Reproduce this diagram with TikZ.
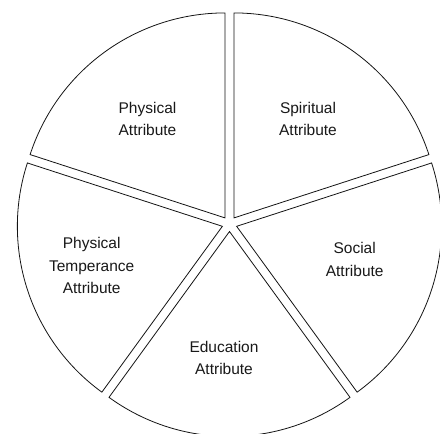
\documentclass[tikz,border=0pt]{standalone}
\usepackage{fontspec}
\setmainfont{Liberation Sans}
\usetikzlibrary{calc,positioning}
\definecolor{PieEdge}{RGB}{20,20,20}
\definecolor{PieText}{RGB}{25,25,25}

\begin{document}
\begin{tikzpicture}[x=1pt,y=1pt,
    wedge/.style={draw=PieEdge,line width=0.8pt,fill=white},
    attr/.style={align=center,text=PieText,font=\fontsize{15.5}{22.5}\selectfont}]
      \useasboundingbox (0,0) rectangle (440,434);
      \clip (0,0) rectangle (440,434);
      \coordinate (O) at (229.5,210);
      \foreach \a in {18,90,162,234,306}{
        \draw[wedge] ($(O)+(\a+36:7.5)$) -- ++(\a:205)
          arc[start angle=\a,end angle=\a+72,radius=205] -- cycle;
      }
      \node[attr] (phys) at (147.5,315) {Physical\\Attribute};
      \node[attr] (spir) at (308,315) {Spiritual\\Attribute};
      \node[attr] (soc) at (354.7,174.5) {Social\\Attribute};
      \node[attr] (temp) at (91.7,168.3) {Physical\\Temperance\\Attribute};
      \node[attr] (edu) at (224,76) {Education\\Attribute};
    \end{tikzpicture}
\end{document}
